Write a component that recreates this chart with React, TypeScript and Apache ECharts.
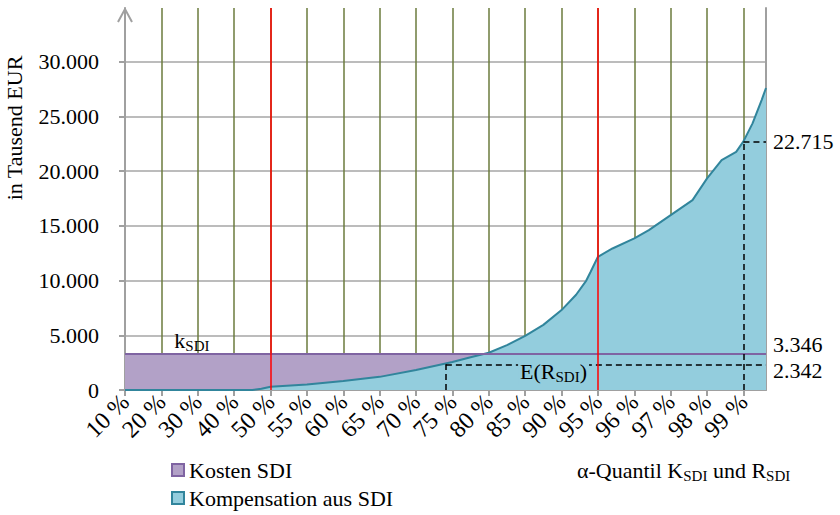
import React, { useEffect, useRef } from 'react';
import * as echarts from 'echarts';

// x-axis category ticks (alpha quantiles in %)
const QUANTILE_TICKS = [10, 20, 30, 40, 50, 55, 60, 65, 70, 75, 80, 85, 90, 95, 96, 97, 98, 99];
const RED_QUANTILES = [50, 95];
const X_END_QUANTILE = 99.62;

// Kompensation aus SDI (alpha-quantile of R_SDI), in Tausend EUR
const CURVE_Q = [10, 20, 30, 40, 45, 47.5, 50, 55, 60, 65, 70, 75, 77.5, 80, 82.5, 85, 87.5, 90, 92, 93.4, 94, 95, 95.4, 96, 96.4, 97, 97.6, 98, 98.4, 98.8, 99, 99.25, 99.5, 99.62];
const CURVE_V = [0, 0, 0, 0, 0, 120, 290, 500, 830, 1200, 1820, 2560, 3000, 3400, 4100, 4950, 5950, 7300, 8700, 10000, 10800, 12170, 12930, 13850, 14600, 15980, 17350, 19330, 21000, 21760, 22715, 24360, 26490, 27590];

// Kosten SDI
const KOSTEN = 3346;
// Expected value E(R_SDI) and the quantile where the curve reaches it
const ER_VALUE = 2342;
const ER_QUANTILE = 74.1;
// 99 % quantile value
const VAR_QUANTILE = 99;
const VAR_VALUE = 22715;

const Y_MAX = 34900;
const Y_INTERVAL = 5000;

const FONT = "'Liberation Serif', 'Times New Roman', serif";

function qPos(q: number): number {
  const T = QUANTILE_TICKS;
  for (let i = 0; i < T.length - 1; i++) {
    if (q <= T[i + 1]) return i + (q - T[i]) / (T[i + 1] - T[i]);
  }
  const n = T.length - 1;
  return n + (q - T[n]) / (T[n] - T[n - 1]);
}

function fmt(v: number): string {
  return String(v).replace(/\B(?=(\d{3})+(?!\d))/g, '.');
}

const rich = {
  m: { fontSize: 22, fontFamily: FONT, color: '#000' },
  s: { fontSize: 15, fontFamily: FONT, color: '#000', padding: [12, 0, 0, 0] },
};

export default function App() {
  const ref = useRef<HTMLDivElement>(null);
  useEffect(() => {
    if (!ref.current) return;
    const chart = echarts.init(ref.current, undefined, { renderer: 'svg' });
    const X_MAX = qPos(X_END_QUANTILE);
    const curve = CURVE_Q.map((q, i) => [qPos(q), CURVE_V[i]]);
    const dash = { color: '#000', width: 1.5, type: [6, 4] as any };
    const axisGray = '#a0a0a0';
    const valueLabel = (v: number, dy: number) => ({
      coord: [X_MAX, v],
      label: {
        show: true, position: 'right', distance: 7, formatter: fmt(v),
        fontSize: 22, color: '#000', fontFamily: FONT, offset: [0, dy],
      },
    });

    chart.setOption({
      animation: false,
      textStyle: { fontFamily: FONT },
      grid: { left: 125, right: 74, top: 8, bottom: 125, containLabel: false },
      legend: {
        orient: 'vertical',
        left: 171,
        top: 459,
        padding: 0,
        itemGap: 6,
        itemWidth: 12,
        itemHeight: 12,
        icon: 'rect',
        selectedMode: false,
        textStyle: { fontSize: 22, color: '#000', fontFamily: FONT },
        data: [
          { name: 'Kosten SDI', itemStyle: { color: '#b2a1c7', borderColor: '#7f64a2', borderWidth: 2 } },
          { name: 'Kompensation aus SDI', itemStyle: { color: '#93cddd', borderColor: '#31859c', borderWidth: 2 } },
        ],
      },
      xAxis: {
        type: 'value',
        min: 0,
        max: X_MAX,
        interval: 1,
        axisLine: { show: true, lineStyle: { color: axisGray, width: 2 } },
        axisTick: { show: true, length: 6, lineStyle: { color: axisGray, width: 2 } },
        axisLabel: {
          rotate: 45,
          fontSize: 24,
          color: '#000',
          fontFamily: FONT,
          margin: 8,
          showMaxLabel: false,
          formatter: (v: number) => {
            const i = Math.round(v);
            return Math.abs(v - i) < 1e-6 && i < QUANTILE_TICKS.length ? `${QUANTILE_TICKS[i]} %` : '';
          },
        },
        splitLine: { show: true, showMinLine: false, showMaxLine: false, lineStyle: { color: '#6b7b3c', width: 1.5 } },
      },
      yAxis: [
        {
          type: 'value',
          min: 0,
          max: Y_MAX,
          interval: Y_INTERVAL,
          axisLine: { show: true, lineStyle: { color: axisGray, width: 2 } },
          axisTick: { show: true, length: 6, lineStyle: { color: axisGray, width: 2 } },
          axisLabel: {
            fontSize: 22,
            color: '#000',
            fontFamily: FONT,
            margin: 26,
            showMaxLabel: false,
            formatter: (v: number) => (v % Y_INTERVAL === 0 ? fmt(v) : ''),
          },
          splitLine: { show: true, showMinLine: false, showMaxLine: false, lineStyle: { color: '#a6a6a6', width: 1.5 } },
        },
        {
          type: 'value',
          position: 'right',
          min: 0,
          max: Y_MAX,
          interval: Y_INTERVAL,
          axisLine: { show: true, lineStyle: { color: axisGray, width: 2 } },
          axisTick: { show: false },
          axisLabel: { show: false },
          splitLine: { show: false },
        },
      ],
      series: [
        {
          name: 'Kosten SDI',
          type: 'line',
          data: [[0, KOSTEN], [X_MAX, KOSTEN]],
          symbol: 'none',
          lineStyle: { width: 0, color: '#7f64a2' },
          itemStyle: { color: '#b2a1c7' },
          areaStyle: { color: '#b2a1c7', opacity: 1 },
          z: 2,
        },
        {
          name: 'Kompensation aus SDI',
          type: 'line',
          data: curve,
          symbol: 'none',
          lineStyle: { width: 2, color: '#31859c' },
          itemStyle: { color: '#93cddd' },
          areaStyle: { color: '#93cddd', opacity: 1 },
          z: 3,
        },
        {
          name: 'annotations',
          type: 'line',
          data: [],
          z: 5,
          markLine: {
            silent: true,
            symbol: ['none', 'none'],
            label: { show: false },
            data: [
              { yAxis: KOSTEN, lineStyle: { color: '#7f64a2', width: 2, type: 'solid' } },
              [
                { coord: [qPos(ER_QUANTILE), ER_VALUE], lineStyle: dash },
                { coord: [X_MAX, ER_VALUE] },
              ],
              [
                { coord: [qPos(ER_QUANTILE), 0], lineStyle: dash },
                { coord: [qPos(ER_QUANTILE), ER_VALUE] },
              ],
              [
                { coord: [qPos(VAR_QUANTILE), VAR_VALUE], lineStyle: dash },
                { coord: [X_MAX, VAR_VALUE] },
              ],
              [
                { coord: [qPos(VAR_QUANTILE), 0], lineStyle: dash },
                { coord: [qPos(VAR_QUANTILE), VAR_VALUE] },
              ],
              ...RED_QUANTILES.map((q) => ({
                xAxis: qPos(q),
                lineStyle: { color: '#ff0000', width: 1.5, type: 'solid' },
              })),
            ],
          },
          markPoint: {
            silent: true,
            symbol: 'circle',
            symbolSize: 0,
            data: [
              {
                coord: [qPos(28.4), KOSTEN],
                label: { show: true, formatter: '{m|k}{s|SDI}', rich, offset: [0, -13] },
              },
              {
                coord: [qPos(88.9), ER_VALUE],
                label: {
                  show: true, formatter: '{m|E(R}{s|SDI}{m|)}', rich, offset: [0, 7],
                  backgroundColor: '#93cddd', padding: [0, 2],
                },
              },
              valueLabel(KOSTEN, -9),
              valueLabel(ER_VALUE, 6),
              valueLabel(VAR_VALUE, 0),
            ],
          },
        },
      ],
      graphic: [
        {
          type: 'polyline',
          z: 10,
          shape: { points: [[118, 22], [125, 9], [132, 22]] },
          style: { stroke: axisGray, lineWidth: 2, fill: 'none' },
        },
        {
          type: 'text',
          x: 14,
          y: 128,
          rotation: Math.PI / 2,
          style: { text: 'in Tausend EUR', font: `22px ${FONT}`, fill: '#000', align: 'center', verticalAlign: 'middle' },
        },
        {
          type: 'text',
          x: 577,
          y: 470,
          style: {
            text: '{m|α-Quantil K}{s|SDI}{m| und R}{s|SDI}',
            rich,
            fill: '#000',
            align: 'left',
            verticalAlign: 'middle',
          },
        },
      ],
    });
    return () => chart.dispose();
  }, []);
  return <div ref={ref} style={{ position: 'absolute', left: 0, top: 0, width: 840, height: 515 }} />;
}
